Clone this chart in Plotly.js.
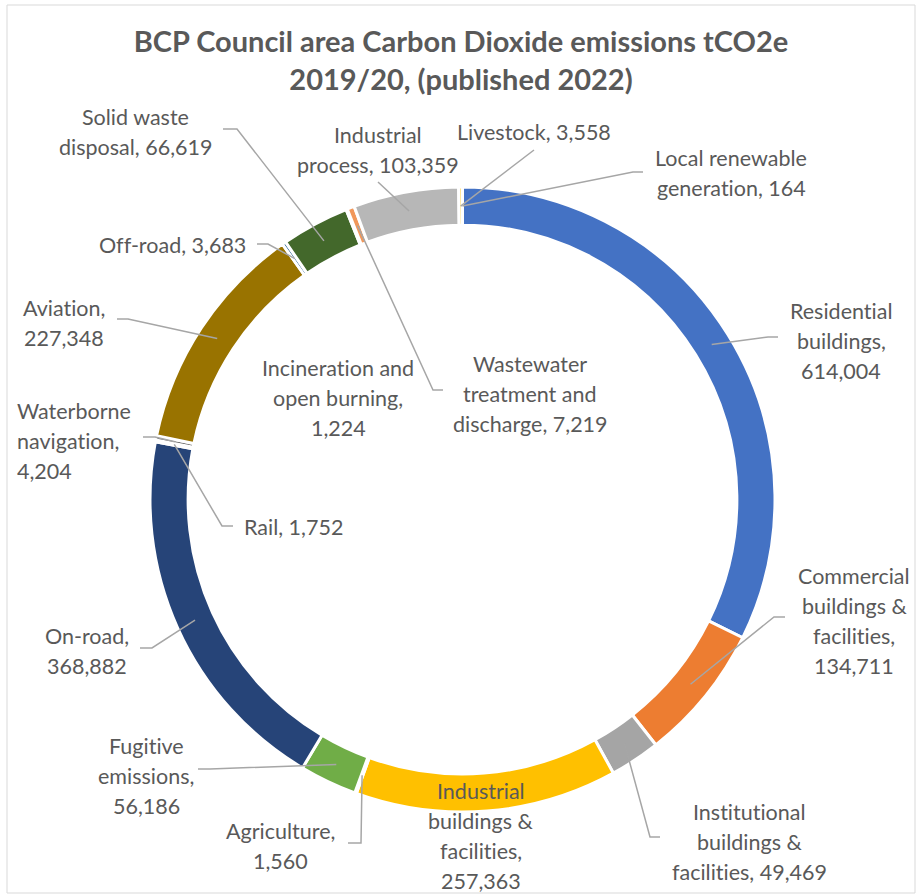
<!DOCTYPE html>
<html><head><meta charset="utf-8">
<script src="https://cdn.plot.ly/plotly-3.0.1.min.js"></script>
<style>html,body{margin:0;padding:0;background:#fff} text{font-variant-ligatures:none !important;font-feature-settings:"liga" 0,"clig" 0 !important}</style>
</head><body><div id="chart" style="width:922px;height:895px"></div>
<script>
// ---- data ----
const categories = [
  "Residential buildings", "Commercial buildings & facilities", "Institutional buildings & facilities",
  "Industrial buildings & facilities", "Agriculture", "Fugitive emissions", "On-road", "Rail",
  "Waterborne navigation", "Aviation", "Off-road", "Solid waste disposal",
  "Incineration and open burning", "Wastewater treatment and discharge", "Industrial process",
  "Livestock", "Local renewable generation"
];
const labelTemplates = [
  "Residential<br>buildings,<br>{v}", "Commercial<br>buildings &<br>facilities,<br>{v}",
  "Institutional<br>buildings &<br>facilities, {v}", "Industrial<br>buildings &<br>facilities,<br>{v}",
  "Agriculture,<br>{v}", "Fugitive<br>emissions,<br>{v}", "On-road,<br>{v}", "Rail, {v}",
  "Waterborne<br>navigation,<br>{v}", "Aviation,<br>{v}", "Off-road, {v}", "Solid waste<br>disposal, {v}",
  "Incineration and<br>open burning,<br>{v}", "Wastewater<br>treatment and<br>discharge, {v}",
  "Industrial<br>process, {v}", "Livestock, {v}", "Local renewable<br>generation, {v}"
];
const values = [614004, 134711, 49469, 257363, 1560, 56186, 368882, 1752, 4204, 227348, 3683, 66619, 1224, 7219, 103359, 3558, 164];
const colors = ["#4472C4", "#ED7D31", "#A5A5A5", "#FFC000", "#5B9BD5", "#70AD47", "#264478", "#9E480E",
  "#636363", "#997300", "#255E91", "#43682B", "#698ED0", "#F1975A", "#B7B7B7", "#FFCD33", "#7CAFDD"];
const titleText = "BCP Council area Carbon Dioxide emissions tCO2e<br>2019/20, (published 2022)";

// ---- layout geometry (pixels) ----
const W = 922, H = 895;
const CX = 462.5, CY = 499.5, R = 312.5, HOLE = 0.878;
const LINE_GAP = 30;
// label placement: [x, first line y, anchor], leader start & elbow (or null)
const labelPos = [
  [841, 311, "center", [[778,337],[768,337]]],
  [854, 576, "center", [[785,617],[774,617]]],
  [749, 812, "center", [[660,837],[650,837]]],
  [481, 791, "center", null],
  [280, 831, "center", [[348,843],[361,843]]],
  [146, 746, "center", [[198,769],[210,769]]],
  [87, 636, "center", [[140,648],[152,648]]],
  [293, 527, "center", [[233,526],[222,526]]],
  [15, 411, "left", [[143,437],[155,437]]],
  [64, 308, "center", [[117,319],[128,319]]],
  [172, 245, "center", [[257,244],[268,244]]],
  [135, 117, "center", [[223,129],[237,129]]],
  [338, 368, "center", null],
  [530, 364, "center", [[443,390],[433,390]]],
  [378, 135, "center", [[378,182],[378,182]]],
  [534, 132, "center", [[534,150],[534,150]]],
  [731, 158, "center", [[643,172],[633,172]]]
];

const FONT = "Lato, Carlito, Calibri, 'Open Sans', sans-serif";
const fx = x => x / W, fy = y => 1 - y / H;
const fmt = v => v.toLocaleString("en-GB");

const total = values.reduce((a, b) => a + b, 0);
const Rm = R * (1 + HOLE) / 2;
const annotations = [], shapes = [];
let cum = 0;
values.forEach((v, i) => {
  const ang = (cum + v / 2) / total * 2 * Math.PI;
  cum += v;
  const px = CX + Rm * Math.sin(ang), py = CY - Rm * Math.cos(ang);
  const [lx, ly, al, leader] = labelPos[i];
  const lines = labelTemplates[i].replace("{v}", fmt(v)).split("<br>");
  lines.forEach((t, k) => annotations.push({
    xref: "paper", yref: "paper", x: fx(lx), y: fy(ly + k * LINE_GAP),
    xanchor: al, yanchor: "middle", showarrow: false, text: t,
    font: {family: FONT, size: 21.5, color: "#595959"}
  }));
  if (leader) {
    const [s, e] = leader;
    shapes.push({
      type: "path", xref: "paper", yref: "paper",
      path: `M ${fx(s[0])},${fy(s[1])} L ${fx(e[0])},${fy(e[1])} L ${fx(px)},${fy(py)}`,
      line: {color: "#A6A6A6", width: 1.5}
    });
  }
});
shapes.push({type: "rect", xref: "paper", yref: "paper", x0: fx(7), x1: fx(915), y0: fy(893), y1: fy(5),
  line: {color: "#D9D9D9", width: 1}, layer: "below"});

const trace = {
  type: "pie", values: values, labels: categories, sort: false, direction: "clockwise", rotation: 0,
  hole: HOLE, textinfo: "none", hoverinfo: "label+value",
  marker: {colors: colors, line: {color: "#FFFFFF", width: 3}},
  domain: {x: [fx(CX - R), fx(CX + R)], y: [fy(CY + R), fy(CY - R)]}
};
const layout = {
  width: W, height: H, margin: {l: 0, r: 0, t: 0, b: 0}, showlegend: false,
  paper_bgcolor: "#FFFFFF",
  title: {text: titleText, x: 0.5, xanchor: "center", y: fy(52), yanchor: "top", yref: "container",
    font: {family: FONT, size: 29, color: "#595959", weight: "bold"}},
  annotations: annotations, shapes: shapes
};
Plotly.newPlot("chart", [trace], layout, {displayModeBar: false, staticPlot: true});
</script></body></html>
